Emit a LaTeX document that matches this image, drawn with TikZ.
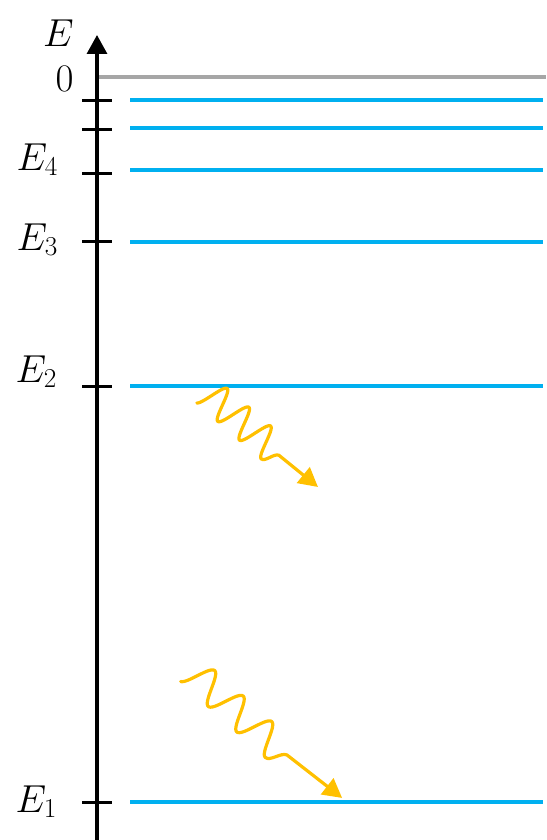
\RequirePackage{fix-cm}
\documentclass[tikz,border=0pt]{standalone}
\usetikzlibrary{arrows.meta}
\definecolor{lvlblue}{HTML}{00B0F0}
\definecolor{zerogray}{HTML}{A6A6A6}
\definecolor{photony}{HTML}{FFC000}
\begin{document}
\begin{tikzpicture}[x=1pt,y=-1pt,
  axisline/.style={line width=3.2pt, black},
  tickline/.style={line width=3pt, black},
  level/.style={line width=3.2pt, lvlblue},
  zeroline/.style={line width=3.2pt, zerogray},
  photon/.style={line width=3.2pt, photony, line cap=round, line join=round,
    -{Triangle[length=19pt,width=20pt]}},
  lab/.style={inner sep=0pt, font=\fontsize{39}{42}\selectfont}]
\useasboundingbox (0,0) rectangle (546,840);
% axis
\coordinate (axbot) at (97,840);
\coordinate (axtop) at (97,35);
\draw[axisline, -{Triangle[length=19pt,width=20pt]}] (axbot) -- (axtop);
% zero line
\coordinate (z0) at (99,77);
\coordinate (z1) at (546,77);
\draw[zeroline] (z0) -- (z1);
% levels and ticks
\foreach \n/\y in {a/100,b/128,c/170,d/242,e/386,f/802}{
  \coordinate (L\n0) at (130,\y);
  \coordinate (L\n1) at (543,\y);
  \draw[level] (L\n0) -- (L\n1);
}
\foreach \n/\y in {a/101,b/130,c/173,d/241,e/386,f/802}{
  \coordinate (T\n0) at (82,\y);
  \coordinate (T\n1) at (112,\y);
  \draw[tickline] (T\n0) -- (T\n1);
}
% labels
\node[lab, anchor=base] (lE) at (58.5,47) {$E$};
\node[lab, anchor=base] (l0) at (64.5,92) {$0$};
\node[lab, anchor=base east] (l4) at (58,170) {$E_4$};
\node[lab, anchor=base east] (l3) at (58,250) {$E_3$};
\node[lab, anchor=base east] (l2) at (57,382) {$E_2$};
\node[lab, anchor=base east] (l1) at (57,812) {$E_1$};
% photon 1
\begin{scope}[shift={(206.2,390.9)}, rotate=-40.8]
  \draw[photon] plot[domain=0.8:86.1, samples=140, smooth] (\x,{15.5*cos(12.5436*\x)})
    .. controls (91,15.5) and (92,3) .. (97,1.2) -- (147.4,-0.3);
\end{scope}
% photon 2
\begin{scope}[shift={(190.1,669.4)}, rotate=-41.8]
  \draw[photon] plot[domain=1:114.75, samples=160, smooth] (\x,{15.5*cos(9.4118*\x)})
    .. controls (121,15.5) and (123,1) .. (129.3,-0.8) -- (199,-5.5);
\end{scope}
\end{tikzpicture}
\end{document}
